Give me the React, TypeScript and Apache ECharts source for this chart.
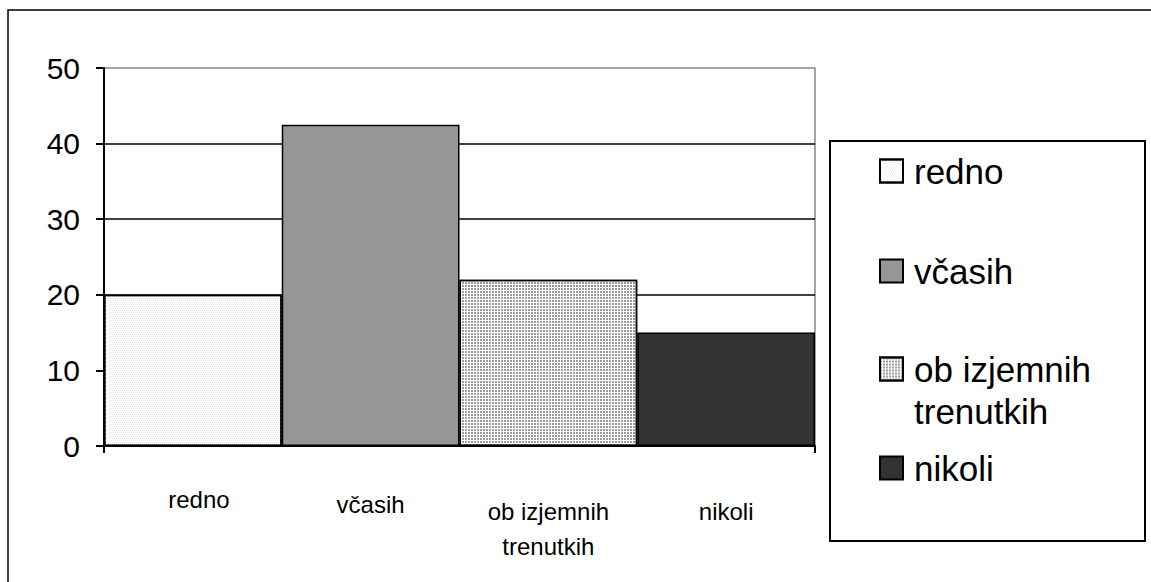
import React, { useEffect, useRef } from 'react';
import * as echarts from 'echarts';

// ---- data ----
const categories = ['redno', 'včasih', 'ob izjemnih trenutkih', 'nikoli'];
const axisLabels = ['redno', 'včasih', 'ob izjemnih\ntrenutkih', 'nikoli'];
const values = [20, 42.5, 22, 15];
const yMin = 0;
const yMax = 50;
const yStep = 10;

// ---- styles / layout ----
const FONT = '"Liberation Sans", Arial, sans-serif';
const fills = ['#ffffff', '#969696', '#ffffff', '#333333'];
const decals: any[] = [
  { symbol: 'rect', symbolSize: 1, color: '#e6e6e6', dashArrayX: [[1, 1], [0, 1, 1, 0]], dashArrayY: [1, 1], rotation: 0 },
  null,
  { symbol: 'rect', symbolSize: 1, color: '#9c9c9c', dashArrayX: [2, 1], dashArrayY: [2, 1], rotation: 0 },
  null,
];
const labelPads = [[0, 0, 0, 12], [5, 0, 0, 0], [12, 0, 0, 0], [12, 0, 0, 0]];
const legendCenters = [171, 271, 369, 468];

export default function App() {
  const ref = useRef<HTMLDivElement>(null);
  useEffect(() => {
    if (!ref.current) return;
    const chart = echarts.init(ref.current, undefined, { renderer: 'svg' });
    const option: any = {
      animation: false,
      backgroundColor: '#ffffff',
      grid: {
        left: 104,
        right: 336,
        top: 68,
        bottom: 136,
        show: true,
        borderColor: '#888888',
        borderWidth: 1.5,
      },
      xAxis: {
        type: 'category',
        data: axisLabels.map((v, i) => ({ value: v, textStyle: { padding: labelPads[i] } })),
        axisLine: { show: true, lineStyle: { color: '#000', width: 2 } },
        axisTick: { show: true, interval: (i: number) => i === 0, length: 7, lineStyle: { color: '#000', width: 2 } },
        axisLabel: { interval: 0, fontSize: 24, lineHeight: 35, margin: 36, color: '#000', fontFamily: FONT },
        splitLine: { show: false },
      },
      yAxis: {
        type: 'value',
        min: yMin,
        max: yMax,
        interval: yStep,
        axisLine: { show: true, lineStyle: { color: '#000', width: 2 } },
        axisTick: { show: true, length: 8, lineStyle: { color: '#000', width: 2 } },
        axisLabel: { fontSize: 30, color: '#000', margin: 24, fontFamily: FONT },
        splitLine: { show: true, showMaxLine: false, showMinLine: false, lineStyle: { color: '#000', width: 1.5 } },
      },
      legend: categories.map((name, i) => ({
        data: [name],
        orient: 'vertical',
        left: 879,
        top: legendCenters[i] - 17.5,
        padding: 0,
        itemWidth: 23,
        itemHeight: 23,
        icon: 'rect',
        selectedMode: false,
        formatter: i === 2 ? '{a|ob izjemnih}\n{a|trenutkih}' : '{name}',
        textStyle: i === 2
          ? {
              fontSize: 35, color: '#000', fontFamily: FONT, padding: [42, 0, 0, 6],
              rich: { a: { fontSize: 35, lineHeight: 42, color: '#000', fontFamily: FONT } },
            }
          : { fontSize: 35, color: '#000', fontFamily: FONT, padding: [0, 0, 0, 6] },
      })),
      graphic: [
        {
          type: 'rect',
          shape: { x: 8, y: 10, width: 1170, height: 600 },
          style: { fill: 'none', stroke: '#000', lineWidth: 1.5 },
          silent: true,
          z: -1,
        },
        {
          type: 'rect',
          shape: { x: 830, y: 141, width: 315, height: 400 },
          style: { fill: 'none', stroke: '#000', lineWidth: 2 },
          silent: true,
        },
      ],
      series: categories.map((name, i) => ({
        name,
        type: 'bar',
        barWidth: '100%',
        barGap: '-100%',
        data: values.map((v, j) => (j === i ? v : '-')),
        itemStyle: {
          color: fills[i],
          borderColor: '#000',
          borderWidth: 1.5,
          ...(decals[i] ? { decal: decals[i] } : {}),
        },
      })),
    };
    chart.setOption(option);
    return () => chart.dispose();
  }, []);
  return (
    <div
      ref={ref}
      style={{ position: 'absolute', left: 0, top: 0, width: 1151, height: 582 }}
    />
  );
}
